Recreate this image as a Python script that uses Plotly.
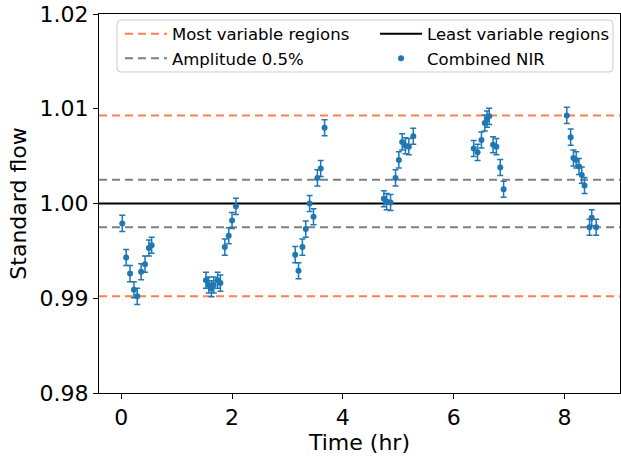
import plotly.graph_objects as go

# Time stamps (hours) and normalised flow for the combined NIR light curve
time_hr = [
    0.02, 0.09, 0.16, 0.23, 0.29, 0.36, 0.43, 0.50, 0.55,
    1.53, 1.58, 1.63, 1.67, 1.74, 1.79, 1.87, 1.94, 2.00, 2.07,
    3.14, 3.20, 3.27, 3.33, 3.40, 3.47, 3.54, 3.60, 3.67,
    4.74, 4.79, 4.86, 4.95, 5.01, 5.07, 5.13, 5.19, 5.27,
    6.36, 6.43, 6.50, 6.56, 6.60, 6.64, 6.71, 6.77, 6.84, 6.90,
    8.04, 8.11, 8.16, 8.21, 8.26, 8.31, 8.36, 8.45, 8.49, 8.57,
]
flow = [
    0.9979, 0.9943, 0.9926, 0.9909, 0.9902, 0.9928, 0.9936, 0.9953, 0.9956,
    0.9919, 0.9914, 0.9910, 0.9914, 0.9919, 0.9916, 0.9954, 0.9966, 0.9982, 0.9997,
    0.9946, 0.9929, 0.9954, 0.9973, 1.0000, 0.9986, 1.0027, 1.0037, 1.0080,
    1.0005, 1.0002, 1.0001, 1.0027, 1.0046, 1.0065, 1.0061, 1.0060, 1.0071,
    1.0058, 1.0054, 1.0067, 1.0085, 1.0089, 1.0092, 1.0062, 1.0060, 1.0038, 1.0015,
    1.0093, 1.0070, 1.0048, 1.0046, 1.0039, 1.0030, 1.0019, 0.9975, 0.9985, 0.9975,
]
flow_err = [0.00085] * len(flow)

# Reference levels
most_variable = [1.0093, 0.9902]
least_variable = [1.0]
amplitude = [1.0025, 0.9975]

x_range = [-0.4, 9.0]
y_range = [0.98, 1.02]
y_ticks = [0.98, 0.99, 1.00, 1.01, 1.02]
x_ticks = [0, 2, 4, 6, 8]

FONT = "DejaVu Sans"
CORAL = "#ff7f50"
GRAY = "#808080"
BLUE = "#1f77b4"
DASH = "8px,5px"

fig = go.Figure()

# Legend frame (rounded rectangle in paper coordinates) behind both legend columns
fx0, fx1, fy0, fy1 = 0.0345, 0.9866, 0.847, 0.9842
rx, ry = 4 / 521, 4 / 379
frame_path = (
    f"M {fx0 + rx},{fy1} L {fx1 - rx},{fy1} Q {fx1},{fy1} {fx1},{fy1 - ry} "
    f"L {fx1},{fy0 + ry} Q {fx1},{fy0} {fx1 - rx},{fy0} "
    f"L {fx0 + rx},{fy0} Q {fx0},{fy0} {fx0},{fy0 + ry} "
    f"L {fx0},{fy1 - ry} Q {fx0},{fy1} {fx0 + rx},{fy1} Z"
)
fig.add_shape(
    type="path", xref="paper", yref="paper", path=frame_path,
    fillcolor="rgba(255,255,255,0.8)", line=dict(color="#cccccc", width=1),
    layer="above",
)

# Horizontal reference lines spanning the full axis width
def hline(y, color, dash, name, legend, rank, show):
    fig.add_shape(
        type="line", xref="x domain", yref="y", x0=0, x1=1, y0=y, y1=y,
        line=dict(color=color, width=2, dash=dash),
        name=name, showlegend=show, legend=legend, legendrank=rank, layer="below",
    )

for i, y in enumerate(most_variable):
    hline(y, CORAL, DASH, "Most variable regions", "legend", 1, i == 0)
for i, y in enumerate(amplitude):
    hline(y, GRAY, DASH, "Amplitude 0.5%", "legend", 2, i == 0)
for i, y in enumerate(least_variable):
    hline(y, "black", "solid", "Least variable regions", "legend2", 1, i == 0)

fig.add_trace(go.Scatter(
    x=time_hr, y=flow, mode="markers", name="Combined NIR",
    legend="legend2", legendrank=2,
    marker=dict(color=BLUE, size=6),
    error_y=dict(type="data", array=flow_err, color=BLUE, thickness=1.5, width=3),
))

axis_common = dict(
    showgrid=False, zeroline=False, showline=True, linecolor="black",
    linewidth=1.1, mirror=True, ticks="outside", ticklen=5, tickwidth=1.1,
    tickcolor="black", tickfont=dict(family=FONT, size=22, color="black"),
)

fig.update_xaxes(
    range=x_range, tickvals=x_ticks, ticktext=[str(t) for t in x_ticks],
    title=dict(text="Time (hr)", font=dict(family=FONT, size=22, color="black"), standoff=4),
    **axis_common,
)
fig.update_yaxes(
    range=y_range, tickvals=y_ticks, ticktext=[f"{t:.2f}" for t in y_ticks],
    title=dict(text="Standard flow", font=dict(family=FONT, size=22, color="black"), standoff=6),
    **axis_common,
)

legend_common = dict(
    orientation="v", yanchor="top", xanchor="left", y=0.9934,
    bgcolor="rgba(0,0,0,0)", borderwidth=0,
    font=dict(family=FONT, size=16.5, color="black"),
    itemwidth=42, traceorder="normal", tracegroupgap=0,
)

fig.update_layout(
    width=621, height=457,
    margin=dict(l=99, r=1, t=14, b=64),
    paper_bgcolor="white", plot_bgcolor="white",
    font=dict(family=FONT, color="black"),
    legend=dict(x=0.0403, **legend_common),
    legend2=dict(x=0.5298, **legend_common),
    showlegend=True,
)

fig.write_html("out.html")
